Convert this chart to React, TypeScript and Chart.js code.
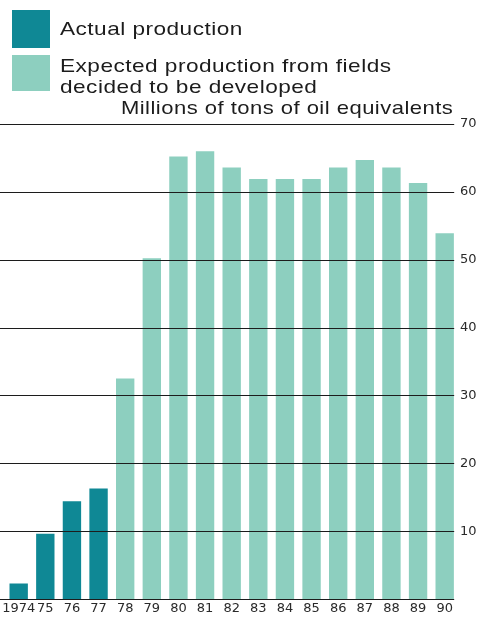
import React, { useEffect, useRef } from "react";
import { Chart, registerables } from "chart.js";

Chart.register(...registerables);

const years = ["1974", "75", "76", "77", "78", "79", "80", "81", "82", "83", "84", "85", "86", "87", "88", "89", "90"];
const actualProduction = [2.3, 9.6, 14.4, 16.3, null, null, null, null, null, null, null, null, null, null, null, null, null];
const expectedProduction = [null, null, null, null, 32.5, 50.2, 65.2, 66.0, 63.6, 61.9, 61.9, 61.9, 63.6, 64.7, 63.6, 61.3, 53.9];
const yTicks = [10, 20, 30, 40, 50, 60, 70];
const gridValues = [0, 10, 20, 30, 40, 50, 60, 70];

const DARK = "#0f8895";
const LIGHT = "#8dcfbf";
const INK = "#1c1c1c";

const gridOverlay = {
  id: "gridOverlay",
  afterDatasetsDraw(chart: any) {
    const { ctx, scales } = chart;
    const y = scales.y;
    const xs = scales.x;
    const lastBarRight = xs.getPixelForValue(years.length - 1) + 9.5;
    ctx.save();
    ctx.strokeStyle = INK;
    ctx.lineWidth = 1.2;
    gridValues.forEach((v) => {
      const py = Math.round(y.getPixelForValue(v)) + 0.5;
      ctx.beginPath();
      ctx.moveTo(0, py);
      ctx.lineTo(lastBarRight, py);
      ctx.stroke();
    });
    ctx.restore();
  },
};

export default function App() {
  const ref = useRef<HTMLCanvasElement>(null);

  useEffect(() => {
    if (!ref.current) return;
    const chart = new Chart(ref.current, {
      type: "bar",
      data: {
        labels: years,
        datasets: [
          { label: "Actual production", data: actualProduction, backgroundColor: DARK },
          { label: "Expected production from fields decided to be developed", data: expectedProduction, backgroundColor: LIGHT },
        ],
      },
      options: {
        animation: false,
        responsive: false,
        layout: { padding: { top: 124, left: 5, right: 0, bottom: 0 } },
        plugins: { legend: { display: false }, tooltip: { enabled: false } },
        datasets: { bar: { categoryPercentage: 1, barPercentage: 0.69 } },
        scales: {
          x: {
            stacked: true,
            grid: { display: false, drawTicks: false },
            border: { display: false },
            ticks: {
              color: "#2a2a2a",
              font: { family: "DejaVu Sans", size: 13 },
              maxRotation: 0,
              autoSkip: false,
              padding: 2,
            },
            afterFit: (s: any) => {
              s.height = 21;
            },
          },
          y: {
            stacked: true,
            position: "right",
            min: 0,
            max: 70,
            grid: { display: false, drawTicks: false },
            border: { display: false },
            ticks: {
              color: "#2a2a2a",
              font: { family: "DejaVu Sans", size: 13 },
              padding: 2,
            },
            afterBuildTicks: (s: any) => {
              s.ticks = yTicks.map((v) => ({ value: v }));
            },
            afterFit: (s: any) => {
              s.width = 19;
            },
          },
        },
      },
      plugins: [gridOverlay],
    });
    return () => chart.destroy();
  }, []);

  const textStyle: React.CSSProperties = {
    position: "absolute",
    fontFamily: "'Liberation Sans', Arial, sans-serif",
    fontSize: 19,
    lineHeight: "21px",
    letterSpacing: "0.4px",
    color: INK,
    whiteSpace: "nowrap",
    margin: 0,
    transform: "scaleX(1.19)",
    transformOrigin: "left top",
  };

  return (
    <div style={{ position: "fixed", left: 0, top: 0, width: 477, height: 620, background: "#ffffff", overflow: "hidden" }}>
      <canvas ref={ref} width={477} height={620} style={{ position: "absolute", left: 0, top: 0 }} />
      <div style={{ position: "absolute", left: 12, top: 10, width: 38, height: 38, background: DARK }} />
      <div style={{ position: "absolute", left: 12, top: 55, width: 38, height: 36, background: LIGHT }} />
      <div style={{ ...textStyle, left: 60, top: 18 }}>Actual production</div>
      <div style={{ ...textStyle, left: 60, top: 55 }}>
        Expected production from fields
        <br />
        decided to be developed
      </div>
      <div style={{ ...textStyle, right: 24, top: 97, fontSize: 18.5, transformOrigin: "right top" }}>
        Millions of tons of oil equivalents
      </div>
    </div>
  );
}
